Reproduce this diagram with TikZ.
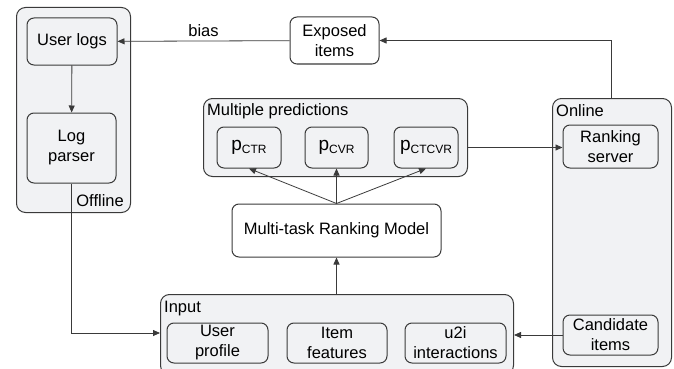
\documentclass[tikz,border=0pt]{standalone}
\usepackage{fontspec}
\setmainfont{Liberation Sans}
\usetikzlibrary{arrows.meta}
\definecolor{grp}{HTML}{F1F2F4}
\definecolor{ln}{HTML}{3A3A3A}
\begin{document}
\begin{tikzpicture}[x=1pt,y=-1pt,
  font=\fontsize{16.5}{20}\selectfont,
  grpbox/.style={draw=ln,line width=1pt,fill=grp,rounded corners=9pt},
  inbox/.style={draw=ln,line width=1pt,rounded corners=7pt,align=center,inner sep=0pt},
  wbox/.style={inbox,fill=white},
  arr/.style={draw=ln,line width=0.8pt,-{Triangle[length=7pt,width=6pt]}},
  lbl/.style={anchor=west,inner sep=0pt}]
\useasboundingbox (0,0) rectangle (674,369);
% containers
\node[grpbox,minimum width=114pt,minimum height=205pt,anchor=north west] (off) at (16,7) {};
\node[grpbox,minimum width=264pt,minimum height=78pt,anchor=north west] (mp) at (203,98) {};
\node[grpbox,minimum width=119pt,minimum height=268pt,anchor=north west] (on) at (552,98) {};
\node[grpbox,minimum width=353pt,minimum height=80pt,anchor=north west] (inp) at (160,294) {};
\node[lbl,anchor=south east] (offl) at (124,207) {Offline};
\node[lbl] (mpl) at (207,111) {Multiple predictions};
\node[lbl] (onl) at (556,111) {Online};
\node[lbl] (inpl) at (164,309) {Input};
% boxes
\newcommand{\bx}[6]{\node[#1,minimum width=#4pt,minimum height=#5pt] (#2) at (#3) {#6};}
\bx{inbox}{ul}{72,41.5}{90}{47}{User logs}
\bx{inbox}{lp}{71.5,148}{89}{70}{Log\\parser}
\bx{wbox}{ex}{334.5,40.5}{89}{47}{Exposed\\items}
\newcommand{\pp}[1]{{\fontsize{19}{19}\selectfont p}\raisebox{-2.5pt}{\fontsize{12}{12}\selectfont #1}}
\bx{inbox}{pa}{249,147.5}{64}{41}{\pp{CTR}}
\bx{inbox}{pb}{336.5,147.5}{63}{41}{\pp{CVR}}
\bx{inbox}{pc}{426,147.5}{64}{41}{\pp{CTCVR}}
\bx{inbox}{rs}{610.5,146.5}{95}{43}{Ranking\\server}
\bx{inbox}{ci}{610.5,335}{95}{40}{Candidate\\items}
\bx{wbox}{mt}{336.5,230.5}{209}{53}{Multi-task Ranking Model}
\bx{inbox}{up}{217.5,343}{101}{40}{User\\profile}
\bx{inbox}{if}{337,343}{100}{40}{Item\\features}
\bx{inbox}{ui}{455.5,343}{101}{40}{u2i\\interactions}
% connectors
\draw[arr] (ul) -- (lp);
\draw[arr] (ex) -- node[above=4pt,inner sep=0pt] (bias) {bias} (ul);
\draw[arr] (on.north -| 611,0) |- (ex.east);
\draw[arr] (mp.east |- pc) -- (rs.west |- pc);
\coordinate (mtt) at (mt.north);
\draw[arr] (mtt) -- (pa.south);
\draw[arr] (mtt) -- (pb.south);
\draw[arr] (mtt) -- (pc.south);
\draw[arr] (inp.north -| mt) -- (mt.south);
\draw[arr] (lp.south) |- (inp.west |- 0,333);
\draw[arr] (ci.west) -- (inp.east |- ci);
\end{tikzpicture}
\end{document}
